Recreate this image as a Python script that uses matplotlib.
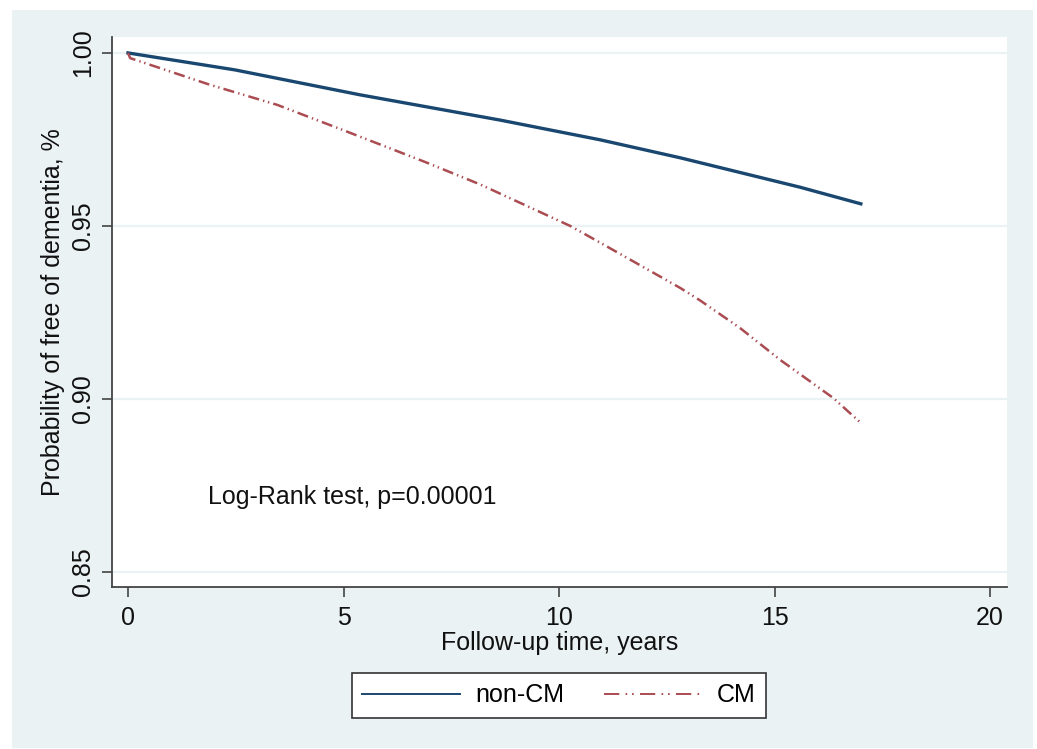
import matplotlib
matplotlib.use("Agg")
import matplotlib.pyplot as plt
from matplotlib.patches import Rectangle

plt.rcParams['font.family'] = ['Liberation Sans', 'DejaVu Sans']
plt.rcParams['lines.scale_dashes'] = False

# Data
noncm_t = [0.0, 2.48, 5.38, 8.63, 10.95, 12.81, 15.59, 17.0]
noncm_s = [1.0, 0.9951, 0.9879, 0.9806, 0.9749, 0.9697, 0.9612, 0.9564]

cm_t = [0.0, 0.05, 1.90, 3.46, 4.99, 6.89, 8.17, 10.26, 10.95, 12.81, 13.27, 14.20, 15.13, 16.36, 17.0]
cm_s = [1.0, 0.9985, 0.9908, 0.9850, 0.9777, 0.9685, 0.9620, 0.9500, 0.9452, 0.9321, 0.9285, 0.9205, 0.9113, 0.9003, 0.8931]

x_ticks = [0, 5, 10, 15, 20]
y_ticks = [0.85, 0.90, 0.95, 1.00]
y_ticklabels = ["0.85", "0.90", "0.95", "1.00"]
labels = ["non-CM", "CM"]
annotation = "Log-Rank test, p=0.00001"

BG = "#EAF2F3"
NAVY = "#1A476F"
MAROON = "#AA4C52"
FS = 18

W, H = 1037, 749
fig = plt.figure(figsize=(W / 100, H / 100), dpi=100, facecolor="white")
bg = Rectangle((12 / W, 1 - 748 / H), (1033 - 12) / W, (748 - 10) / H,
               transform=fig.transFigure, facecolor=BG, edgecolor="none", zorder=-10)
fig.patches.append(bg)

ax = fig.add_axes([112 / W, 1 - 587 / H, (1007 - 112) / W, (587 - 37) / H])
ax.set_zorder(1)
ax.set_facecolor("white")

ax.plot(noncm_t, noncm_s, color=NAVY, lw=2.4, label=labels[0], zorder=3)
ax.plot(cm_t, cm_s, color=MAROON, lw=1.8, dashes=(8, 3, 1, 2.7, 1, 3), label=labels[1], zorder=3)

ax.set_xlim(-0.371, 20.39)
ax.set_ylim(0.8457, 1.0046)
ax.set_xticks(x_ticks)
ax.set_yticks(y_ticks)
ax.set_yticklabels(y_ticklabels, rotation=90, va="center")
ax.grid(axis="y", color=BG, lw=1.6, zorder=1)
ax.set_axisbelow(True)

for s in ["top", "right"]:
    ax.spines[s].set_visible(False)
for s in ["left", "bottom"]:
    ax.spines[s].set_color("#444444")
    ax.spines[s].set_linewidth(1.3)

ax.tick_params(axis="both", direction="out", length=7.5, width=1.2, color="#444444",
               labelsize=FS, labelcolor="#111111")
ax.tick_params(axis="y", pad=5)
ax.tick_params(axis="x", pad=6)

ax.set_xlabel("Follow-up time, years", fontsize=FS, color="#111111", labelpad=1)
ax.set_ylabel("Probability of free of dementia, %", fontsize=FS, color="#111111", labelpad=4)

ax.text(1.86, 0.8717, annotation, fontsize=FS, color="#111111", ha="left", va="center")

leg = fig.legend(loc="center", bbox_to_anchor=(559 / W, 1 - 695.5 / H), ncol=2,
                 fontsize=FS, frameon=True, fancybox=False, framealpha=1,
                 edgecolor="#333333", handlelength=3.9, handletextpad=0.64,
                 columnspacing=1.56, borderpad=0.42)
leg.set_zorder(5)
leg.get_frame().set_linewidth(1.2)
lines = leg.get_lines()
for ln in lines:
    ln.set_linewidth(1.4)
lines[1].set_dashes((11, 4.5, 1.2, 3.5, 1.2, 4.5))

fig.savefig("out.png", dpi=100, facecolor="white")
